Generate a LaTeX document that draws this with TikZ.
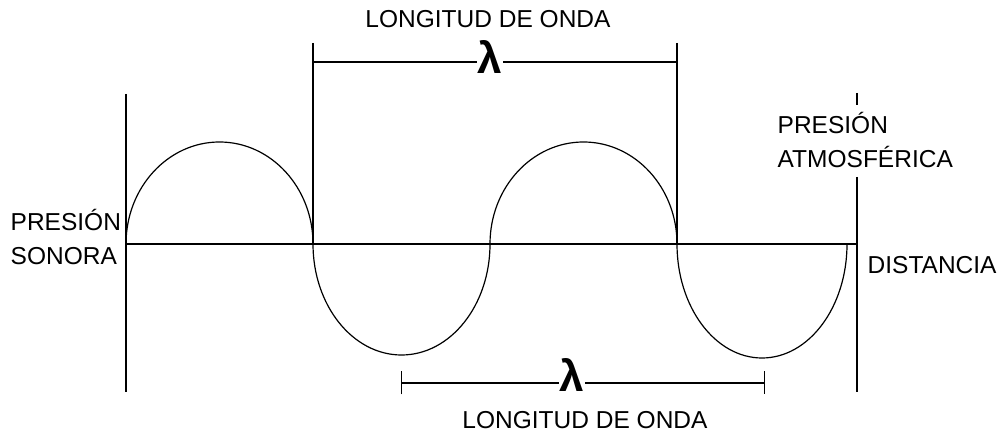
\documentclass[tikz,border=0pt]{standalone}
\usepackage{fontspec}
\setmainfont{Liberation Sans}
\usetikzlibrary{arrows.meta}

\begin{document}
\begin{tikzpicture}[x=1pt,y=1pt,line width=1.4pt,
  txt/.style={font=\fontsize{24.5}{34}\selectfont,inner sep=2pt},
  lam/.style={font=\fontsize{44}{44}\selectfont\bfseries,fill=white,inner sep=1pt},
  wave/.style={line width=1.2pt}]
\useasboundingbox (0,0) rectangle (1008,435);
% axes
\coordinate (O) at (126,191);
\coordinate (E) at (857,191);
\coordinate (LT) at (126,341);
\coordinate (LB) at (126,43);
\coordinate (RT) at (857,342);
\coordinate (RT1) at (857,330);
\coordinate (RT2) at (857,258);
\coordinate (RB) at (857,43);
\coordinate (M1) at (313,392);
\coordinate (M2) at (677,392);
\draw (LT) -- (LB);
\draw (RT) -- (RT1);
\draw (RT2) -- (RB);
\draw (O) -- (E);
\draw (M1) -- (M1 |- O);
\draw (M2) -- (M2 |- O);
% wave
\draw[wave] (O) arc[start angle=180,end angle=0,x radius=93.5,y radius=102]
  arc[start angle=180,end angle=360,x radius=88.5,y radius=111]
  arc[start angle=180,end angle=0,x radius=93.5,y radius=102]
  arc[start angle=180,end angle=360,x radius=85,y radius=114];
% wavelength marks
\coordinate (ta) at (313,373);
\coordinate (tb) at (677,373);
\draw (ta) -- (tb);
\node[lam] (lt) at (490,378) {λ};
\coordinate (ba) at (401,52);
\coordinate (bb) at (765,52);
\draw[{Bar[width=23pt]}-{Bar[width=23pt]}] (ba) -- (bb);
\node[lam] (lb) at (572,60) {λ};
% labels
\node[txt] (wt) at (488,416) {LONGITUD DE ONDA};
\node[txt] (wb) at (585,15) {LONGITUD DE ONDA};
\node[txt,anchor=west,align=left] (ps) at (8,198) {PRESIÓN\\SONORA};
\node[txt,anchor=west,align=left] (pa) at (775,295) {PRESIÓN\\ATMOSFÉRICA};
\node[txt,anchor=west] (d) at (865,170) {DISTANCIA};
\end{tikzpicture}
\end{document}
